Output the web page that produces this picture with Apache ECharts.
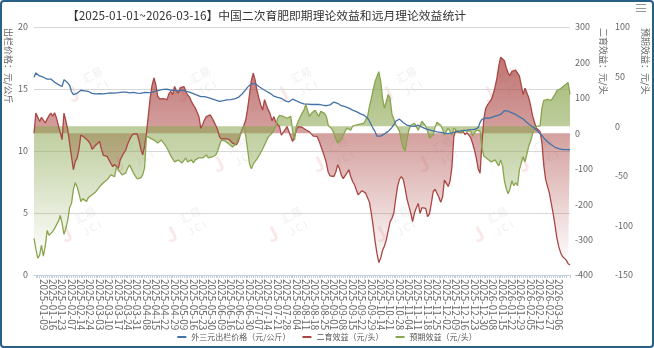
<!DOCTYPE html>
<html><head><meta charset="utf-8">
<script src="https://cdn.jsdelivr.net/npm/echarts@6/dist/echarts.min.js"></script>
<style>
html,body{margin:0;padding:0;background:#fff;}
#wrap{position:relative;width:654px;height:348px;}
#c{position:absolute;left:0;top:0;width:654px;height:348px;}
#frame{position:absolute;left:0;top:0;width:654px;height:348px;box-sizing:border-box;border:2px solid #2a5f88;border-radius:4px;pointer-events:none;}
</style></head><body>
<div id="wrap"><div id="c"></div><div id="frame"></div></div>
<script>
// ---- data ----
const titleText = '【2025-01-01~2026-03-16】中国二次育肥即期理论效益和远月理论效益统计';
const seriesNames = ['外三元出栏价格（元/公斤）', '二育效益（元/头）', '预期效益（元/头）'];
const axisNames = ['出栏价格：元/公斤', '二育效益：元/头', '预期效益：元/头'];
const startDate = '2025-01-02';
const endDate = '2026-03-16';
const closedDays = ['2025-01-28','2025-01-29','2025-01-30','2025-01-31','2025-02-03','2025-02-04','2025-02-17',
  '2025-04-04','2025-05-01','2025-05-02','2025-05-05','2025-06-02',
  '2025-10-01','2025-10-02','2025-10-03','2025-10-06','2025-10-07','2025-10-08',
  '2026-01-01','2026-01-02','2026-02-16','2026-02-17','2026-02-18','2026-02-19','2026-02-20','2026-02-23'];

const price = [
15.95,16.3,16.2,16.05,16.0,15.95,15.9,15.8,15.75,15.8,
15.65,15.55,15.5,15.35,15.25,15.2,15.75,15.65,15.5,15.3,
14.8,14.55,14.5,14.65,14.8,14.9,14.95,14.85,14.85,14.8,
14.75,14.65,14.6,14.6,14.55,14.62,14.67,14.6,14.55,14.65,
14.72,14.68,14.62,14.67,14.73,14.7,14.67,14.75,14.78,14.74,
14.72,14.68,14.7,14.73,14.68,14.66,14.62,14.65,14.68,14.72,
14.73,14.7,14.67,14.72,14.78,14.85,14.88,14.9,14.95,14.97,
15.0,14.98,14.94,14.9,14.82,14.9,14.92,14.85,14.82,14.9,
14.88,14.82,14.8,14.75,14.68,14.62,14.55,14.5,14.42,14.38,
14.35,14.38,14.37,14.3,14.25,14.2,14.15,14.1,14.05,14.0,
14.02,14.06,14.1,14.13,14.17,14.15,14.14,14.2,14.27,14.32,
14.42,14.6,14.75,14.95,15.15,15.3,15.42,15.48,15.45,15.3,
15.2,15.08,15.0,14.92,14.82,14.75,14.65,14.55,14.42,14.35,
14.32,14.3,14.25,14.12,14.05,14.0,13.97,13.92,14.18,14.12,
14.05,13.97,13.9,13.83,13.8,13.81,13.78,13.73,13.75,13.8,
13.75,13.78,13.76,13.73,13.7,13.68,13.65,13.66,13.72,13.8,
13.95,14.0,13.85,13.73,13.65,13.6,13.58,13.52,13.46,13.38,
13.3,13.25,13.18,13.1,13.02,12.95,12.9,12.8,12.65,12.4,
12.1,11.8,11.55,11.2,11.05,11.2,11.3,11.38,11.45,11.58,
11.72,11.9,12.12,12.4,12.55,12.57,12.45,12.3,12.2,12.08,
12.05,12.0,12.08,11.98,12.02,12.08,11.96,11.92,11.85,11.78,
11.72,11.7,11.68,11.62,11.6,11.55,11.52,11.5,11.46,11.44,
11.42,11.4,11.43,11.46,11.5,11.55,11.58,11.6,11.62,11.65,
11.66,11.68,11.7,11.72,11.72,11.74,11.8,11.88,12.3,12.55,
12.65,12.66,12.63,12.65,12.7,12.75,12.8,12.85,12.9,12.95,
13.1,13.25,13.32,13.22,13.15,13.08,13.0,12.95,12.85,12.75,
12.65,12.58,12.5,12.3,12.15,12.05,11.95,11.85,11.72,11.55,
11.42,11.25,11.05,10.9,10.75,10.6,10.5,10.42,10.3,10.24,
10.2,10.17,10.12,10.12,10.11,10.1,10.1];

const feedProfit = [
0,57,45,33,45,40,29,40,50,57,
48,58,43,22,19,-18,57,35,10,-28,
-66,-103,-80,-70,-45,-5,-9,-12,-14,-22,
-30,-45,-40,-33,-28,-23,-45,-62,-58,-65,
-75,-85,-94,-88,-84,-99,-75,-65,-55,-47,
-30,-18,-8,-2,0,-2,-20,-45,-61,-37,
0,50,100,135,156,137,105,97,95,98,
99,95,112,118,109,132,120,113,128,131,
132,118,108,102,90,80,72,60,47,14,
25,38,47,50,52,43,33,22,10,-10,
-16,-18,-15,-14,-17,-20,-28,-31,-33,-23,
-6,10,22,38,70,110,150,170,150,120,
99,80,66,95,80,66,55,35,47,32,
25,19,-5,-10,10,19,5,-10,-23,-9,
10,19,19,17,12,10,8,4,0,-8,
-6,-9,-20,-35,-50,-66,-84,-110,-120,-115,
-122,-110,-89,-100,-118,-128,-125,-112,-103,-122,
-136,-145,-160,-174,-169,-162,-165,-169,-165,-195,
-226,-263,-305,-339,-365,-352,-330,-318,-300,-275,
-250,-240,-225,-185,-150,-130,-122,-130,-155,-185,
-205,-225,-249,-225,-210,-198,-226,-210,-208,-212,
-235,-228,-198,-165,-158,-169,-180,-195,-180,-132,
-136,-150,-135,-95,-10,8,10,2,3,5,
-4,2,-3,-12,-28,-47,-70,-100,-113,-30,
40,70,80,76,95,110,130,155,190,215,
214,205,185,170,163,175,172,178,170,162,
135,109,127,125,100,78,50,32,15,12,
5,-25,-90,-130,-150,-169,-198,-226,-259,-295,
-320,-337,-348,-353,-358,-368,-372];

const forwardProfit = [
-113,-124,-133,-130,-120,-131,-121,-105,-110,-108,
-106,-103,-101,-96,-90,-98,-109,-103,-95,-82,
-78,-64,-57,-61,-68,-76,-73,-75,-76,-72,
-70,-69,-68,-66,-64,-61,-59,-57,-56,-54,
-52,-49,-47,-51,-41,-44,-45,-49,-50,-47,
-42,-39,-43,-47,-50,-53,-55,-52,-49,-42,
-10,-9,-12,-13,-14,-15,-17,-15,-14,-14,
-19,-22,-26,-30,-33,-36,-37,-34,-36,-37,
-35,-32,-36,-35,-34,-37,-34,-33,-32,-31,
-32,-30,-29,-32,-32,-31,-31,-29,-25,-19,
-14,-14,-15,-17,-18,-20,-21,-22,-17,-15,
-9,-4,0,-10,-24,-38,-43,-38,-40,-33,
-30,-29,-23,-19,-15,-11,-9,-7,-5,0,
8,11,13,10,11,8,7,10,-5,-14,
0,5,9,13,16,22,16,10,13,15,
16,14,10,15,17,13,10,1,-1,-3,
-7,-13,-17,-19,-14,-9,-5,-2,-3,-4,
0,1,1,2,2,1,3,4,10,20,
28,37,45,50,55,45,28,18,25,32,
28,12,7,2,0,-5,-14,-22,-25,-14,
-4,1,3,3,2,-4,-6,5,3,0,
-5,-12,-14,-9,-1,4,4,1,-3,-9,
-5,-2,-5,-9,-2,-1,-5,-4,-7,-4,
-5,-5,-4,-5,-10,-9,-4,-2,-5,-22,
-30,-31,-33,-32,-36,-37,-34,-37,-40,-34,
-40,-55,-63,-68,-63,-55,-60,-57,-60,-44,
-37,-31,-36,-28,-20,-15,-8,-3,0,1,
0,18,26,25,27,25,26,28,32,36,
37,38,40,41,43,44,32];

// watermark anchor spots (background logo "汇易 JCI")
const watermarkSpots = [[95,80],[203,80],[304,80],[409,80],[510,80],
  [140,150],[240,150],[340,150],[445,150],[545,150],
  [88,220],[193,220],[294,220],[402,220],[500,220]];

// trading-day categories (weekdays, market closed days removed)
function buildDates(){
  const out = [];
  const d = new Date(startDate + 'T00:00:00Z');
  const end = new Date(endDate + 'T00:00:00Z');
  while (d <= end) {
    const wd = d.getUTCDay();
    const s = d.toISOString().slice(0, 10);
    if (wd !== 0 && wd !== 6 && closedDays.indexOf(s) < 0) out.push(s);
    d.setUTCDate(d.getUTCDate() + 1);
  }
  return out;
}
const dates = buildDates();

const FONT = "'Noto Sans CJK SC', 'Noto Sans', sans-serif";
const C_BLUE = '#4572A7', C_RED = '#AA4643', C_GREEN = '#89A54E';

function grad(r, g, b){
  return new echarts.graphic.LinearGradient(0, 0, 0, 1, [
    {offset: 0, color: `rgba(${r},${g},${b},0.75)`},
    {offset: 0.45, color: `rgba(${r},${g},${b},0.45)`},
    {offset: 1, color: `rgba(${r},${g},${b},0.0)`}
  ]);
}

const wmGraphics = [];
watermarkSpots.forEach(function (p) {
  wmGraphics.push({type: 'text', x: p[0], y: p[1], rotation: 0.5, silent: true, z: -10,
    style: {text: '汇易', fill: 'rgba(150,150,150,0.16)', fontSize: 11, fontFamily: FONT, textAlign: 'center', textVerticalAlign: 'bottom'}});
  wmGraphics.push({type: 'text', x: p[0] + 4, y: p[1] + 8, rotation: 0.5, silent: true, z: -10,
    style: {text: 'J C I', fill: 'rgba(150,150,150,0.16)', fontSize: 10, fontFamily: FONT, textAlign: 'center', textVerticalAlign: 'middle'}});
  wmGraphics.push({type: 'text', x: p[0] - 22, y: p[1] + 14, rotation: 0.5, silent: true, z: -10,
    style: {text: 'J', fill: 'rgba(225,110,110,0.16)', fontSize: 20, fontWeight: 'bold', fontFamily: FONT, textAlign: 'center', textVerticalAlign: 'middle'}});
});

const chart = echarts.init(document.getElementById('c'), null, {renderer: 'canvas'});
const axisLabelStyle = {color: '#666', fontSize: 9, fontFamily: FONT};
chart.setOption({
  animation: false,
  backgroundColor: '#fff',
  textStyle: {fontFamily: FONT},
  title: {
    text: titleText, left: 62, top: 5,
    textStyle: {fontSize: 11.8, fontWeight: 'normal', color: '#333', fontFamily: FONT}
  },
  legend: {
    bottom: 2, left: 'center', icon: 'rect', itemWidth: 9, itemHeight: 2, itemGap: 12,
    textStyle: {fontSize: 8, color: '#555', fontFamily: FONT},
    data: seriesNames
  },
  grid: {left: 34, right: 84, top: 27, bottom: 73, containLabel: false, outerBoundsMode: 'none'},
  xAxis: {
    type: 'category', data: dates, boundaryGap: false,
    axisLine: {lineStyle: {color: '#C0D0E0'}},
    axisTick: {show: true, interval: 0, length: 3, lineStyle: {color: '#C0D0E0'}},
    axisLabel: {interval: 4, rotate: -90, fontSize: 10, color: '#666', fontFamily: FONT, margin: 4}
  },
  yAxis: [
    {type: 'value', min: 0, max: 20, interval: 5, position: 'left',
     axisLine: {show: false}, axisTick: {show: false},
     splitLine: {lineStyle: {color: '#D8D8D8'}},
     axisLabel: Object.assign({margin: 6}, axisLabelStyle)},
    {type: 'value', min: -400, max: 300, interval: 100, position: 'right',
     axisLine: {show: false}, axisTick: {show: false}, splitLine: {show: false},
     axisLabel: Object.assign({margin: 5}, axisLabelStyle)},
    {type: 'value', min: -150, max: 100, interval: 50, position: 'right', offset: 40,
     axisLine: {show: false}, axisTick: {show: false}, splitLine: {show: false},
     axisLabel: Object.assign({margin: 5}, axisLabelStyle)}
  ],
  graphic: wmGraphics.concat([
    {type: 'text', x: 8, y: 28, rotation: -Math.PI / 2,
     style: {text: axisNames[0], fill: '#666', fontSize: 9, fontFamily: FONT, textAlign: 'left', textVerticalAlign: 'middle'}},
    {type: 'text', x: 603, y: 28, rotation: -Math.PI / 2,
     style: {text: axisNames[1], fill: '#666', fontSize: 9, fontFamily: FONT, textAlign: 'left', textVerticalAlign: 'middle'}},
    {type: 'text', x: 645, y: 28, rotation: -Math.PI / 2,
     style: {text: axisNames[2], fill: '#666', fontSize: 9, fontFamily: FONT, textAlign: 'left', textVerticalAlign: 'middle'}},
    {type: 'text', x: 641, y: 8,
     style: {text: '≡', fill: '#999', fontSize: 14, fontFamily: FONT, textAlign: 'center', textVerticalAlign: 'middle'}}
  ]),
  series: [
    {name: seriesNames[0], type: 'line', yAxisIndex: 0, data: price, showSymbol: false,
     color: C_BLUE, lineStyle: {width: 1.3, color: C_BLUE}, z: 3},
    {name: seriesNames[1], type: 'line', yAxisIndex: 1, data: feedProfit, showSymbol: false,
     color: C_RED, lineStyle: {width: 1.3, color: C_RED},
     areaStyle: {color: grad(170, 70, 67), opacity: 1}, z: 2},
    {name: seriesNames[2], type: 'line', yAxisIndex: 2, data: forwardProfit, showSymbol: false,
     color: C_GREEN, lineStyle: {width: 1.3, color: C_GREEN},
     areaStyle: {color: grad(137, 165, 78), opacity: 1}, z: 2}
  ]
});
</script>
</body></html>
